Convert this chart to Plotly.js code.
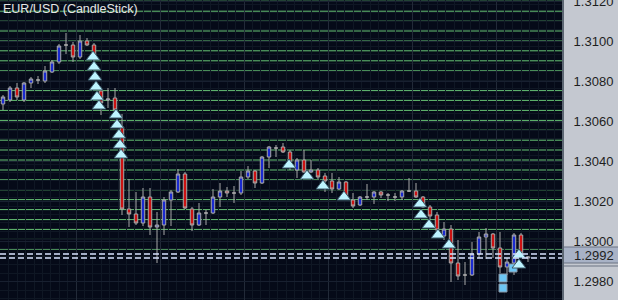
<!DOCTYPE html>
<html>
<head>
<meta charset="utf-8">
<script src="https://cdn.plot.ly/plotly-3.0.1.min.js"></script>
<style>html,body{margin:0;padding:0;background:#c4c8d0;}#chart{width:618px;height:300px;}</style>
</head>
<body>
<div id="chart"></div>
<script>
// OHLC prices (one candle per bar)
const open  = [1.30688,1.30708,1.30768,1.30708,1.30793,1.30808,1.30803,1.30848,1.30898,1.30983,1.30983,1.30923,1.31003,1.30983,1.30753,1.30708,1.30718,1.30573,1.30163,1.30138,1.30093,1.30223,1.30073,1.30083,1.30208,1.30248,1.30338,1.30163,1.30083,1.30143,1.30143,1.30223,1.30253,1.30243,1.30243,1.30323,1.30353,1.30293,1.30423,1.30468,1.30473,1.30448,1.30358,1.30408,1.30348,1.30358,1.30328,1.30303,1.30263,1.30298,1.30208,1.30183,1.30223,1.30223,1.30248,1.30233,1.30223,1.30223,1.30253,1.30253,1.30223,1.30173,1.30133,1.30028,1.30063,1.29893,1.29833,1.29833,1.29938,1.30023,1.30038,1.29968,1.29873,1.29893,1.30033,1.29918];
const high  = [1.30733,1.30778,1.30793,1.30798,1.30823,1.30828,1.30878,1.30908,1.30988,1.31043,1.30998,1.31033,1.31018,1.30993,1.30768,1.30768,1.30768,1.30638,1.30313,1.30248,1.30268,1.30268,1.30148,1.30223,1.30258,1.30363,1.30348,1.30173,1.30193,1.30158,1.30263,1.30293,1.30273,1.30278,1.30353,1.30378,1.30358,1.30428,1.30478,1.30483,1.30493,1.30458,1.30418,1.30458,1.30408,1.30368,1.30343,1.30343,1.30323,1.30303,1.30243,1.30228,1.30288,1.30253,1.30253,1.30243,1.30243,1.30258,1.30318,1.30293,1.30228,1.30183,1.30148,1.30098,1.30083,1.30008,1.29898,1.29998,1.30048,1.30068,1.30043,1.30048,1.29918,1.30043,1.30043,1.29928];
const low   = [1.30658,1.30698,1.30708,1.30698,1.30768,1.30788,1.30793,1.30843,1.30888,1.30938,1.30898,1.30913,1.30978,1.30898,1.30633,1.30668,1.30638,1.30133,1.30073,1.30083,1.30078,1.30033,1.29893,1.30033,1.30078,1.30243,1.30163,1.30053,1.30078,1.30083,1.30138,1.30173,1.30223,1.30193,1.30233,1.30313,1.30268,1.30288,1.30368,1.30423,1.30443,1.30358,1.30318,1.30343,1.30343,1.30313,1.30248,1.30243,1.30258,1.30218,1.30168,1.30178,1.30208,1.30188,1.30218,1.30203,1.30203,1.30208,1.30248,1.30218,1.30168,1.30108,1.30043,1.30008,1.29798,1.29808,1.29783,1.29828,1.29918,1.29913,1.29918,1.29843,1.29833,1.29833,1.29933,1.29898];
const close = [1.30723,1.30768,1.30723,1.30793,1.30813,1.30808,1.30853,1.30898,1.30978,1.30983,1.30923,1.31003,1.30983,1.30923,1.30693,1.30713,1.30658,1.30163,1.30138,1.30093,1.30223,1.30073,1.30083,1.30208,1.30248,1.30338,1.30168,1.30083,1.30143,1.30143,1.30223,1.30253,1.30243,1.30243,1.30323,1.30353,1.30293,1.30423,1.30473,1.30468,1.30448,1.30398,1.30408,1.30348,1.30358,1.30323,1.30303,1.30263,1.30298,1.30223,1.30178,1.30223,1.30223,1.30248,1.30233,1.30233,1.30223,1.30253,1.30253,1.30223,1.30173,1.30128,1.30058,1.30063,1.29893,1.29828,1.29833,1.29938,1.30023,1.30038,1.29968,1.29873,1.29898,1.30033,1.29943,1.29923];

// signal markers (bar position, price)
const triX = [12.86,13.0,13.14,13.29,13.43,13.71,16.14,16.29,16.57,16.71,16.86,40.86,43.43,45.71,48.71,59.57,59.71,60.86,62.14,63.71,73.71,73.71];
const triY = [1.30923,1.30873,1.30823,1.30773,1.30723,1.30678,1.30633,1.30583,1.30533,1.30483,1.30433,1.30383,1.30328,1.30278,1.30223,1.30188,1.30133,1.30083,1.30033,1.29983,1.29933,1.29883];
const sqX = [71.43,71.43,72.86];
const sqY = [1.29818,1.29768,1.29868];

// horizontal level lines
const levels = [1.31202,1.31152,1.31102,1.31053,1.31003,1.30954,1.30904,1.30854,1.30805,1.30755,1.30706,1.30656,1.30606,1.30557,1.30507,1.30458,1.30408,1.30358,1.30309,1.30259,1.30210,1.30160,1.30110,1.30061,1.30011,1.29962];
const bid = 1.29918, ask = 1.29938;
const yTicks = [1.2980,1.3000,1.3020,1.3040,1.3060,1.3080,1.3100,1.3120];
const title = 'EUR/USD (CandleStick)';

const idx = open.map((_, i) => i);
const last = close[close.length - 1];

const traces = [
  {
    type: 'candlestick', x: idx, open: open, high: high, low: low, close: close,
    increasing: {fillcolor: '#1a2ad0', line: {color: '#a8a8a8', width: 1}},
    decreasing: {fillcolor: '#cc1212', line: {color: '#a8a8a8', width: 1}},
    whiskerwidth: 0, hoverinfo: 'skip'
  },
  {
    type: 'scatter', mode: 'markers', x: sqX, y: sqY,
    marker: {symbol: 'square', size: 8, color: '#6cc6f4', line: {color: '#8a97a6', width: 1}}, hoverinfo: 'skip'
  },
  {
    type: 'scatter', mode: 'markers', x: triX, y: triY,
    marker: {symbol: 'triangle-up', size: 12, color: '#bdf4ff', line: {color: '#3a5868', width: 1}}, hoverinfo: 'skip'
  }
];

const shapes = [];
levels.forEach(v => shapes.push({type: 'line', xref: 'paper', x0: 0, x1: 1, y0: v, y1: v, layer: 'below', line: {color: '#66c274', width: 1}}));
[ask, bid].forEach(v => shapes.push({type: 'line', xref: 'paper', x0: 0, x1: 1, y0: v, y1: v, line: {color: '#d8e4ff', width: 1.3, dash: '6px,3px'}}));
shapes.push({type: 'rect', xref: 'paper', x0: 1, x1: 1.1, y0: last - 0.0003, y1: last + 0.0005, fillcolor: '#a8b2c6', line: {color: '#6a7282', width: 1}});
shapes.push({type: 'line', xref: 'paper', x0: 1, x1: 1.1, y0: last - 0.00045, y1: last - 0.00045, line: {color: '#6a7282', width: 1}});
shapes.push({type: 'line', xref: 'paper', yref: 'paper', x0: 1, x1: 1, y0: 0, y1: 1, line: {color: '#5c6672', width: 2}});

const layout = {
  width: 618, height: 300,
  margin: {l: 0, r: 55, t: 0, b: 0, pad: 0},
  paper_bgcolor: '#c4c8d0', plot_bgcolor: '#050a18',
  showlegend: false,
  xaxis: {
    range: [-0.4286, 80.0], rangeslider: {visible: false}, showticklabels: false, ticks: '',
    tick0: 10.43, dtick: 12, showgrid: true, gridcolor: '#222a38', gridwidth: 1, zeroline: false, fixedrange: true,
    minor: {tick0: 10.43, dtick: 1.2, showgrid: true, gridcolor: '#0f1724', gridwidth: 1}
  },
  yaxis: {
    side: 'right', range: [1.29708, 1.31208], tickvals: yTicks, tickformat: '.4f',
    ticks: 'outside', ticklen: 7, tickcolor: '#c4c8d0', ticklabeloverflow: 'allow',
    tickfont: {family: 'Liberation Sans, Arial, sans-serif', size: 13, color: '#1e1e1e'},
    showgrid: true, gridcolor: '#182030', zeroline: false, fixedrange: true,
    minor: {dtick: 0.00042, tick0: 1.2980, showgrid: true, gridcolor: '#0f1724', gridwidth: 1}
  },
  shapes: shapes,
  annotations: [
    {xref: 'paper', yref: 'paper', x: 0.002, y: 1.0, xanchor: 'left', yanchor: 'top', showarrow: false,
     text: title, font: {family: 'Liberation Sans, Arial, sans-serif', size: 12.5, color: '#e6e6e6'}},
    {xref: 'paper', yref: 'y', x: 1, y: last + 0.0001, xanchor: 'left', yanchor: 'middle', xshift: 9, showarrow: false,
     text: last.toFixed(4), font: {family: 'Liberation Sans, Arial, sans-serif', size: 13, color: '#1e1e1e'}}
  ]
};

Plotly.newPlot('chart', traces, layout, {staticPlot: true, displayModeBar: false});
</script>
</body>
</html>
